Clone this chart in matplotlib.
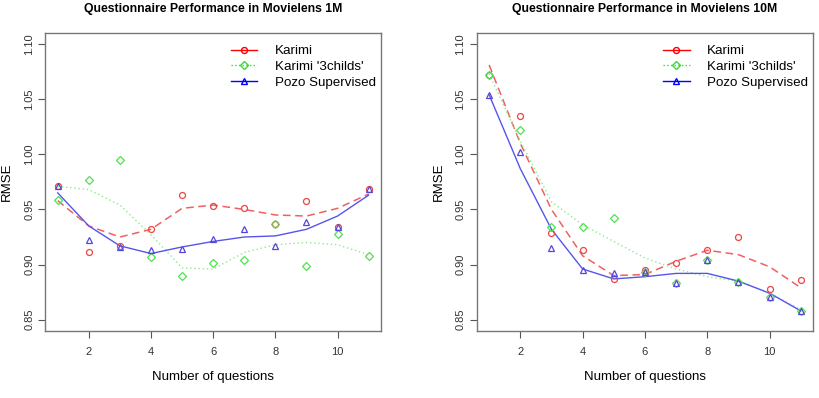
import numpy as np
import matplotlib.pyplot as plt
from matplotlib.lines import Line2D

plt.rcParams['font.family'] = ['Liberation Sans', 'DejaVu Sans']

# number of questions
questions = [1, 2, 3, 4, 5, 6, 7, 8, 9, 10, 11]

# Movielens 1M - measured points
karimi_1m = [0.971, 0.911, 0.917, 0.932, 0.963, 0.953, 0.951, 0.937, 0.958, 0.934, 0.969]
childs_1m = [0.959, 0.977, 0.995, 0.907, 0.890, 0.901, 0.904, 0.937, 0.899, 0.928, 0.908]
pozo_1m = [0.971, 0.922, 0.916, 0.913, 0.914, 0.923, 0.932, 0.917, 0.939, 0.934, 0.969]
# Movielens 1M - smoothed curves
karimi_1m_fit = [0.958, 0.935, 0.925, 0.932, 0.951, 0.954, 0.950, 0.945, 0.944, 0.951, 0.964]
childs_1m_fit = [0.971, 0.968, 0.954, 0.927, 0.897, 0.896, 0.911, 0.918, 0.920, 0.918, 0.909]
pozo_1m_fit = [0.965, 0.935, 0.917, 0.910, 0.916, 0.921, 0.925, 0.926, 0.932, 0.944, 0.963]

# Movielens 10M - measured points
karimi_10m = [1.072, 1.035, 0.929, 0.913, 0.887, 0.895, 0.901, 0.913, 0.925, 0.878, 0.886]
childs_10m = [1.072, 1.022, 0.934, 0.934, 0.942, 0.893, 0.883, 0.904, 0.884, 0.871, 0.858]
pozo_10m = [1.054, 1.002, 0.915, 0.895, 0.892, 0.893, 0.883, 0.904, 0.884, 0.871, 0.858]
# Movielens 10M - smoothed curves
karimi_10m_fit = [1.081, 1.010, 0.950, 0.908, 0.890, 0.891, 0.903, 0.913, 0.909, 0.898, 0.879]
childs_10m_fit = [1.073, 1.012, 0.957, 0.936, 0.921, 0.906, 0.896, 0.889, 0.885, 0.874, 0.859]
pozo_10m_fit = [1.054, 0.987, 0.932, 0.896, 0.887, 0.889, 0.892, 0.892, 0.885, 0.874, 0.858]

titles = ["Questionnaire Performance in Movielens 1M", "Questionnaire Performance in Movielens 10M"]
labels = ["Karimi", "Karimi '3childs'", "Pozo Supervised"]

fig = plt.figure(figsize=(8.19, 3.98), dpi=100)
ax1 = fig.add_axes([0.0553, 0.169, 0.41, 0.748])
ax2 = fig.add_axes([0.582, 0.169, 0.411, 0.748])

panels = [
    (ax1, titles[0], karimi_1m, childs_1m, pozo_1m, karimi_1m_fit, childs_1m_fit, pozo_1m_fit),
    (ax2, titles[1], karimi_10m, childs_10m, pozo_10m, karimi_10m_fit, childs_10m_fit, pozo_10m_fit),
]

for ax, title, k, c, p, kf, cf, pf in panels:
    # smoothed curves
    ax.plot(questions, kf, color='#f06060', lw=1.1, dashes=(5, 3))
    ax.plot(questions, cf, color='#88ee88', lw=1.0, dashes=(1, 2))
    ax.plot(questions, pf, color='#5555ee', lw=1.0)
    # points
    ax.plot(questions, k, 'o', ms=4.3, mfc='none', mec='#ee4444', mew=0.9)
    ax.plot(questions, c, 'D', ms=3.6, mfc='none', mec='#55dd55', mew=0.9)
    ax.plot(questions, p, '^', ms=5, mfc='none', mec='#5544dd', mew=0.9)

    ax.set_xlim(0.6, 11.4)
    ax.set_ylim(0.84, 1.11)
    ax.set_xticks([2, 4, 6, 8, 10])
    ax.set_yticks([0.85, 0.90, 0.95, 1.00, 1.05, 1.10])
    ax.set_yticklabels(["0.85", "0.90", "0.95", "1.00", "1.05", "1.10"], rotation=90, va='center')
    ax.tick_params(labelsize=8, length=5, color='#555555', labelcolor='#333333')
    ax.tick_params(axis='x', pad=7)
    ax.tick_params(axis='y', pad=3)
    for s in ax.spines.values():
        s.set_color('#777777')
        s.set_linewidth(1.0)
    ax.set_title(title, fontsize=8.8, fontweight='bold', pad=15)
    ax.set_xlabel("Number of questions", fontsize=9.5, labelpad=10)
    ax.set_ylabel("RMSE", fontsize=9.5, labelpad=8)

    handles = [
        Line2D([], [], color='red', lw=1, marker='o', ms=4.3, mfc='none'),
        Line2D([], [], color='#33dd33', lw=1, ls=':', marker='D', ms=3.6, mfc='none'),
        Line2D([], [], color='blue', lw=1, marker='^', ms=5, mfc='none'),
    ]
    ax.legend(handles, labels, loc='upper right', frameon=False, fontsize=9.6,
              handlelength=2.0, handletextpad=1.3, labelspacing=0.25,
              bbox_to_anchor=(1.02, 1.0))

fig.savefig('out.png', dpi=100)
